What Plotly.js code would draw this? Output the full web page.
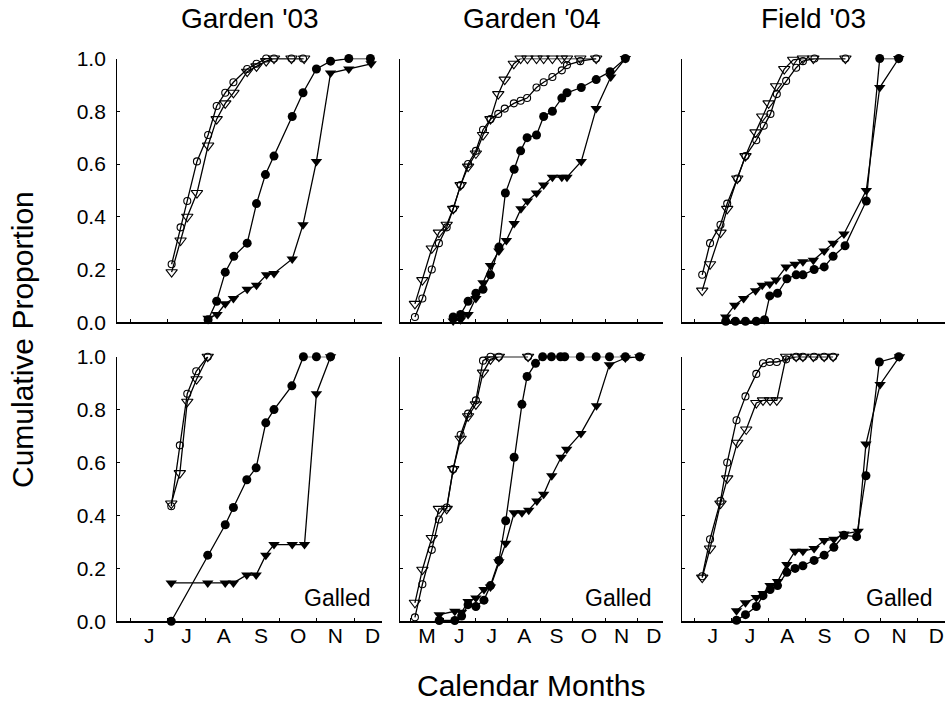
<!DOCTYPE html>
<html>
<head>
<meta charset="utf-8">
<script src="https://cdn.plot.ly/plotly-3.0.1.min.js"></script>
<style>html,body{margin:0;padding:0;background:#fff;}#chart{width:945px;height:703px;}</style>
</head>
<body>
<div id="chart"></div>
<script>
// x values: month number (6.0 = 1 June, 7.0 = 1 July, ...)
// ---- Garden '03 (top) ----
const g03_oc_x = [7.10,7.34,7.52,7.78,8.08,8.31,8.54,8.76,9.13,9.38,9.64,9.85,10.32,10.63];
const g03_oc_y = [0.22,0.36,0.46,0.61,0.71,0.82,0.87,0.91,0.96,0.98,1.0,1.0,1.0,1.0];
const g03_ot_x = [7.10,7.34,7.52,7.78,8.08,8.31,8.54,8.76,9.13,9.38,9.64,9.85,10.32,10.66];
const g03_ot_y = [0.19,0.31,0.40,0.49,0.67,0.77,0.83,0.87,0.95,0.97,0.99,1.0,1.0,1.0];
const g03_fc_x = [8.08,8.31,8.54,8.77,9.13,9.38,9.62,9.85,10.34,10.63,10.99,11.37,11.86,12.44];
const g03_fc_y = [0.01,0.08,0.19,0.25,0.30,0.45,0.56,0.63,0.78,0.87,0.96,0.99,1.0,1.0];
const g03_ft_x = [8.08,8.32,8.54,8.76,9.13,9.38,9.65,9.85,10.34,10.63,10.99,11.37,11.86,12.46];
const g03_ft_y = [0.015,0.03,0.07,0.09,0.125,0.14,0.18,0.185,0.24,0.37,0.61,0.945,0.96,0.98];

// ---- Garden '04 (top) ----
const g04_oc_x = [5.13,5.36,5.65,5.87,6.11,6.31,6.54,6.77,7.01,7.23,7.46,7.70,7.90,8.18,8.39,8.59,8.88,9.10,9.37,9.66,9.82,10.23,10.72];
const g04_oc_y = [0.02,0.09,0.20,0.30,0.36,0.43,0.52,0.60,0.65,0.73,0.77,0.79,0.81,0.83,0.84,0.85,0.89,0.91,0.93,0.955,0.975,0.99,1.0];
const g04_ot_x = [5.13,5.36,5.65,5.87,6.11,6.31,6.54,6.77,7.01,7.23,7.46,7.70,7.90,8.18,8.39,8.60,8.88,9.10,9.37,9.66,9.82,10.23,10.72];
const g04_ot_y = [0.07,0.16,0.28,0.34,0.37,0.43,0.52,0.59,0.64,0.71,0.77,0.865,0.92,0.98,1,1,1,1,1,1,1,1,1];
const g04_fc_x = [6.31,6.54,6.77,7.01,7.23,7.46,7.72,7.92,8.19,8.39,8.59,8.88,9.10,9.37,9.66,9.82,10.26,10.72,11.15,11.62];
const g04_fc_y = [0.02,0.03,0.08,0.11,0.125,0.18,0.285,0.49,0.58,0.65,0.70,0.71,0.78,0.80,0.85,0.87,0.89,0.92,0.95,1.0];
const g04_ft_x = [6.31,6.54,6.77,7.01,7.23,7.46,7.72,7.95,8.19,8.40,8.60,8.88,9.10,9.37,9.66,9.82,10.26,10.72,11.17,11.62];
const g04_ft_y = [0.005,0.01,0.03,0.09,0.15,0.215,0.27,0.31,0.375,0.43,0.46,0.49,0.52,0.55,0.55,0.55,0.61,0.81,0.93,1.0];

// ---- Field '03 (top) ----
const f03_oc_x = [6.22,6.43,6.71,6.89,7.16,7.38,7.67,7.87,8.05,8.22,8.47,8.74,8.92,9.23,10.06];
const f03_oc_y = [0.18,0.30,0.37,0.45,0.545,0.63,0.69,0.745,0.79,0.865,0.915,0.965,0.99,1.0,1.0];
const f03_ot_x = [6.22,6.43,6.71,6.89,7.16,7.38,7.65,7.83,8.00,8.20,8.42,8.66,8.92,9.20,10.06];
const f03_ot_y = [0.12,0.22,0.34,0.43,0.545,0.63,0.72,0.78,0.83,0.895,0.96,0.995,1,1,1];
const f03_fc_x = [6.85,7.11,7.38,7.67,7.89,8.03,8.24,8.49,8.74,8.92,9.22,9.49,9.73,10.05,10.62,10.98,11.49];
const f03_fc_y = [0.004,0.004,0.004,0.004,0.01,0.10,0.11,0.165,0.18,0.18,0.20,0.21,0.25,0.29,0.46,1.0,1.0];
const f03_ft_x = [6.85,7.09,7.33,7.65,7.83,8.03,8.20,8.47,8.71,8.92,9.20,9.49,9.73,10.02,10.62,10.98,11.49];
const f03_ft_y = [0.02,0.065,0.09,0.12,0.14,0.145,0.16,0.21,0.22,0.23,0.235,0.27,0.30,0.335,0.50,0.89,1.0];

// ---- Garden '03 Galled (bottom) ----
const g03g_oc_x = [7.09,7.32,7.52,7.76,8.07];
const g03g_oc_y = [0.435,0.665,0.86,0.945,1.0];
const g03g_ot_x = [7.09,7.32,7.52,7.77,8.07];
const g03g_ot_y = [0.445,0.56,0.83,0.915,1.0];
const g03g_fc_x = [7.09,8.07,8.54,8.76,9.12,9.37,9.63,9.85,10.33,10.64,10.99,11.37];
const g03g_fc_y = [0.0,0.25,0.365,0.43,0.535,0.58,0.75,0.80,0.89,1.0,1.0,1.0];
const g03g_ft_x = [7.09,8.07,8.54,8.76,9.12,9.37,9.63,9.85,10.34,10.67,10.99,11.37];
const g03g_ft_y = [0.145,0.145,0.145,0.145,0.175,0.175,0.25,0.29,0.29,0.29,0.86,1.0];

// ---- Garden '04 Galled (bottom) ----
const g04g_oc_x = [5.13,5.36,5.65,5.87,6.11,6.31,6.54,6.77,7.01,7.23,7.46,7.72,8.62];
const g04g_oc_y = [0.015,0.14,0.27,0.385,0.43,0.575,0.705,0.785,0.835,0.985,1,1,1];
const g04g_ot_x = [5.13,5.36,5.65,5.87,6.11,6.31,6.54,6.77,7.01,7.23,7.46,7.72,8.62];
const g04g_ot_y = [0.07,0.195,0.315,0.425,0.425,0.575,0.69,0.775,0.82,0.94,0.99,1.0,1.0];
const g04g_fc_x = [5.88,6.36,6.57,6.77,7.01,7.26,7.46,7.72,7.93,8.19,8.43,8.59,8.85,9.07,9.34,9.62,9.75,10.23,10.72,11.13,11.62,12.06];
const g04g_fc_y = [0.003,0.003,0.02,0.063,0.056,0.08,0.135,0.23,0.38,0.62,0.82,0.925,0.975,1,1,1,1,1,1,1,1,1];
const g04g_ft_x = [5.88,6.36,6.57,6.77,7.01,7.26,7.46,7.72,7.93,8.19,8.43,8.64,8.89,9.10,9.35,9.64,9.81,10.25,10.73,11.13,11.62,12.07];
const g04g_ft_y = [0.025,0.038,0.034,0.075,0.088,0.12,0.13,0.225,0.295,0.41,0.41,0.42,0.455,0.48,0.55,0.62,0.65,0.71,0.815,0.97,0.995,1.0];

// ---- Field '03 Galled (bottom) ----
const f03g_oc_x = [6.22,6.43,6.71,6.89,7.14,7.38,7.67,7.85,8.03,8.22,8.47,8.74,8.92,9.22,9.49,9.73];
const f03g_oc_y = [0.17,0.31,0.455,0.60,0.76,0.85,0.935,0.975,0.98,0.98,0.99,1,1,1,1,1];
const f03g_ot_x = [6.22,6.43,6.71,6.89,7.16,7.40,7.67,7.85,8.04,8.22,8.47,8.74,8.92,9.20,9.49,9.73];
const f03g_ot_y = [0.165,0.275,0.445,0.54,0.675,0.725,0.825,0.835,0.835,0.835,1,1,1,1,1,1];
const f03g_fc_x = [7.14,7.38,7.67,7.85,8.04,8.24,8.49,8.71,8.92,9.22,9.49,9.75,10.02,10.36,10.61,10.97,11.49];
const f03g_fc_y = [0.004,0.025,0.056,0.097,0.12,0.135,0.185,0.20,0.21,0.23,0.25,0.28,0.325,0.32,0.55,0.98,1.0];
const f03g_ft_x = [7.14,7.38,7.67,7.85,8.04,8.24,8.49,8.71,8.92,9.22,9.49,9.75,10.02,10.40,10.61,10.99,11.51];
const f03g_ft_y = [0.04,0.07,0.09,0.105,0.135,0.15,0.215,0.265,0.265,0.275,0.305,0.31,0.33,0.34,0.67,0.895,1.0];

// tick labels and texts
const monthsA = ['J','J','A','S','O','N','D'];       // Jun..Dec
const monthsB = ['M','J','J','A','S','O','N','D'];   // May..Dec
const yTickVals = [0,0.2,0.4,0.6,0.8,1.0];
const yTickText = ['0.0','0.2','0.4','0.6','0.8','1.0'];
const panelTitles = ["Garden '03","Garden '04","Field '03"];
const galledLabel = 'Galled';
const yTitle = 'Cumulative Proportion';
const xTitle = 'Calendar Months';

const FONT = 'Liberation Sans, Arial, Helvetica, sans-serif';
const W = 945, H = 703;

// panel geometry (pixels)
const colPx = [[117.3,382.3],[400,663.3],[681.7,945]];
const rowPx = [[58.5,322.3],[356.7,621.3]];
const xRanges = [[5.64,12.76],[4.67,12.79],[5.67,12.73]];
const firstMonth = [6,5,6];
const monthLabels = [monthsA, monthsB, monthsA];

const panels = [
  [[g03_oc_x,g03_oc_y],[g03_ot_x,g03_ot_y],[g03_fc_x,g03_fc_y],[g03_ft_x,g03_ft_y]],
  [[g04_oc_x,g04_oc_y],[g04_ot_x,g04_ot_y],[g04_fc_x,g04_fc_y],[g04_ft_x,g04_ft_y]],
  [[f03_oc_x,f03_oc_y],[f03_ot_x,f03_ot_y],[f03_fc_x,f03_fc_y],[f03_ft_x,f03_ft_y]],
  [[g03g_oc_x,g03g_oc_y],[g03g_ot_x,g03g_ot_y],[g03g_fc_x,g03g_fc_y],[g03g_ft_x,g03g_ft_y]],
  [[g04g_oc_x,g04g_oc_y],[g04g_ot_x,g04g_ot_y],[g04g_fc_x,g04g_fc_y],[g04g_ft_x,g04g_ft_y]],
  [[f03g_oc_x,f03g_oc_y],[f03g_ot_x,f03g_ot_y],[f03g_fc_x,f03g_fc_y],[f03g_ft_x,f03g_ft_y]]
];

const markerStyles = [
  {symbol:'circle-open', size:7, color:'#000', line:{width:1.1,color:'#000'}},
  {symbol:'triangle-down-open', size:10, color:'#000', line:{width:1.1,color:'#000'}},
  {symbol:'circle', size:9, color:'#000', line:{width:0}},
  {symbol:'triangle-down', size:10, color:'#000', line:{width:0}}
];

const data = [];
const layout = {
  width: W, height: H,
  margin: {l:0,r:0,t:0,b:0},
  paper_bgcolor:'#fff', plot_bgcolor:'rgba(0,0,0,0)',
  showlegend:false,
  font:{family:FONT, color:'#000'},
  annotations: []
};

for (let p = 0; p < 6; p++) {
  const col = p % 3, row = Math.floor(p / 3);
  const n = p + 1;
  const xa = n === 1 ? 'xaxis' : 'xaxis' + n;
  const ya = n === 1 ? 'yaxis' : 'yaxis' + n;
  const xr = n === 1 ? 'x' : 'x' + n;
  const yr = n === 1 ? 'y' : 'y' + n;
  const labs = monthLabels[col];
  const centers = labs.map((_, i) => firstMonth[col] + i + 0.5);
  const bounds = [];
  for (let m = firstMonth[col]; m <= 12; m++) bounds.push(m);

  layout[xa] = {
    domain: [colPx[col][0]/W, colPx[col][1]/W],
    range: xRanges[col],
    anchor: yr,
    showline: true, linecolor:'#000', linewidth:1.2,
    showgrid:false, zeroline:false,
    tickmode:'array', tickvals: centers, ticktext: labs,
    ticks:'', showticklabels: row === 1,
    tickfont:{family:FONT, size:21, color:'#000'},
    ticklabelstandoff: -5,
    minor:{tickmode:'array', tickvals: bounds, ticks:'inside', ticklen:3, tickwidth:1, tickcolor:'#000', showgrid:false},
    fixedrange:true
  };
  layout[ya] = {
    domain: [1 - rowPx[row][1]/H, 1 - rowPx[row][0]/H],
    range: [0, 1],
    anchor: xr,
    showline: true, linecolor:'#000', linewidth:1.2,
    showgrid:false, zeroline:false,
    tickmode:'array', tickvals: yTickVals, ticktext: yTickText,
    ticks:'inside', ticklen:3, tickwidth:1, tickcolor:'#000',
    showticklabels: col === 0,
    tickfont:{family:FONT, size:21, color:'#000'},
    ticklabelstandoff: 6,
    fixedrange:true
  };

  // draw filled series first, then open
  const order = [2,3,0,1];
  order.forEach(k => {
    const s = panels[p][k];
    data.push({
      type:'scatter', mode:'lines+markers',
      x: s[0], y: s[1], xaxis: xr, yaxis: yr,
      line:{color:'#000', width:1.3},
      marker: markerStyles[k],
      cliponaxis:false, hoverinfo:'skip'
    });
  });

  if (row === 1) {
    layout.annotations.push({
      text: galledLabel, xref: xr + ' domain', yref: yr + ' domain',
      x: 0.96, y: 0.03, xanchor:'right', yanchor:'bottom', showarrow:false,
      font:{family:FONT, size:23, color:'#000'}
    });
  } else {
    layout.annotations.push({
      text: panelTitles[col], xref:'paper', yref:'paper',
      x: ((colPx[col][0]+colPx[col][1])/2)/W, y: 1 - 19/H,
      xanchor:'center', yanchor:'middle', showarrow:false,
      font:{family:FONT, size:28, color:'#000'}
    });
  }
}

layout.annotations.push({
  text: yTitle, xref:'paper', yref:'paper', x: 22/W, y: 1 - 340/H,
  xanchor:'center', yanchor:'middle', textangle:-90, showarrow:false,
  font:{family:FONT, size:30, color:'#000'}
});
layout.annotations.push({
  text: xTitle, xref:'paper', yref:'paper', x: 531/W, y: 1 - 685/H,
  xanchor:'center', yanchor:'middle', showarrow:false,
  font:{family:FONT, size:30, color:'#000'}
});

Plotly.newPlot('chart', data, layout, {staticPlot:true, displayModeBar:false});
</script>
</body>
</html>
